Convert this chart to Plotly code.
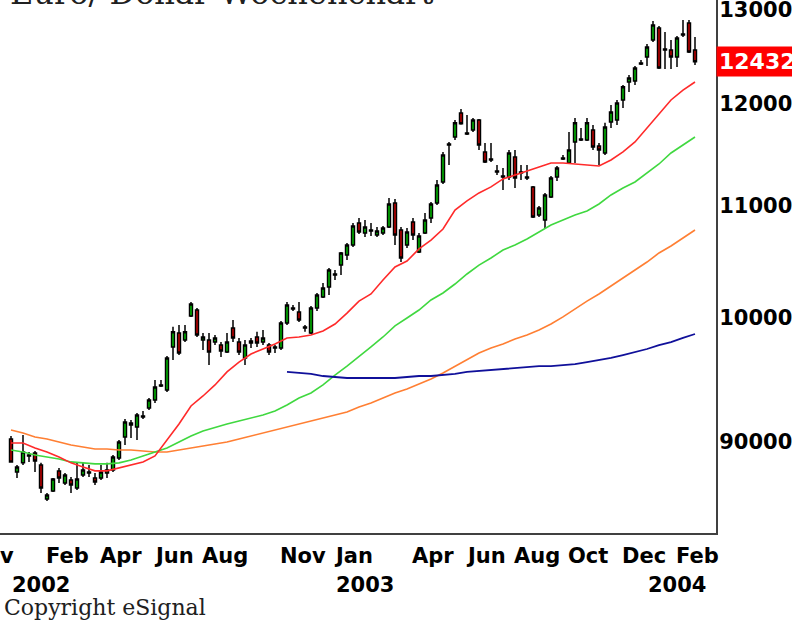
import numpy as np
import pandas as pd
import plotly.graph_objects as go

# ---------------- data (EUR/USD weekly, rates; axis shows rate x 100000) -------------
SCALE = 100000
first_week = "2001-12-21"
n_weeks = 115

open_ = [0.9023, 0.8774, 0.8842, 0.8901, 0.8916, 0.8826, 0.8574, 0.8633, 0.8781, 0.8692,
         0.8714, 0.8656, 0.8751, 0.8774, 0.8729, 0.8729, 0.8766, 0.8789, 0.8879, 0.9038,
         0.9147, 0.9115, 0.9201, 0.9264, 0.9327, 0.9439, 0.9407, 0.9757, 0.9874, 0.9815,
         1.0017, 1.0068, 0.9815, 0.9815, 0.9798, 0.9773, 0.9715, 0.9916, 0.9798, 0.9665,
         0.9790, 0.9840, 0.9798, 0.9773, 0.9748, 0.9748, 0.9958, 1.0085, 1.0051, 0.9924,
         0.9874, 1.0085, 1.0180, 1.0267, 1.0381, 1.0460, 1.0550, 1.0640, 1.0840, 1.0749,
         1.0776, 1.0731, 1.0749, 1.0804, 1.1027, 1.0776, 1.0640, 1.0849, 1.0577, 1.0749,
         1.0886, 1.1027, 1.1225, 1.1593, 1.1662, 1.1903, 1.1702, 1.1732, 1.1832, 1.1515,
         1.1447, 1.1330, 1.1282, 1.1273, 1.1466, 1.1321, 1.1273, 1.1178, 1.0914, 1.0868,
         1.1083, 1.1273, 1.1457, 1.1408, 1.1613, 1.1633, 1.1633, 1.1732, 1.1574, 1.1505,
         1.1813, 1.1832, 1.2035, 1.2220, 1.2230, 1.2420, 1.2483, 1.2664, 1.2793, 1.2567,
         1.2557, 1.2483, 1.2728, 1.2848, 1.2557]
high = [0.9046, 0.8826, 0.9054, 0.8924, 0.8931, 0.8842, 0.8619, 0.8729, 0.8804, 0.8766,
        0.8737, 0.8849, 0.8849, 0.8826, 0.8766, 0.8826, 0.8842, 0.8901, 0.9015, 0.9178,
        0.9170, 0.9225, 0.9240, 0.9343, 0.9487, 0.9487, 0.9682, 0.9925, 0.9941, 0.9941,
        1.0137, 1.0085, 0.9874, 0.9874, 0.9857, 0.9798, 0.9874, 0.9983, 0.9832, 0.9815,
        0.9832, 0.9883, 0.9899, 0.9790, 0.9773, 0.9975, 1.0137, 1.0111, 1.0137, 0.9941,
        1.0102, 1.0215, 1.0302, 1.0434, 1.0416, 1.0577, 1.0658, 1.0840, 1.0886, 1.0868,
        1.0840, 1.0804, 1.0813, 1.1074, 1.1064, 1.0804, 1.0795, 1.0886, 1.0749, 1.0933,
        1.1036, 1.1244, 1.1515, 1.1613, 1.1832, 1.1943, 1.1883, 1.1852, 1.1842, 1.1603,
        1.1603, 1.1388, 1.1360, 1.1534, 1.1534, 1.1388, 1.1388, 1.1187, 1.0999, 1.1121,
        1.1282, 1.1379, 1.1486, 1.1712, 1.1852, 1.1752, 1.1852, 1.1782, 1.1603, 1.1804,
        1.1983, 1.2035, 1.2190, 1.2293, 1.2388, 1.2451, 1.2621, 1.2870, 1.2815, 1.2750,
        1.2664, 1.2707, 1.2881, 1.2881, 1.2696]
low = [0.8842, 0.8729, 0.8826, 0.8849, 0.8774, 0.8619, 0.8560, 0.8626, 0.8692, 0.8678,
       0.8619, 0.8641, 0.8737, 0.8737, 0.8678, 0.8714, 0.8729, 0.8774, 0.8864, 0.8977,
       0.9031, 0.9015, 0.9178, 0.9248, 0.9303, 0.9431, 0.9391, 0.9649, 0.9690, 0.9798,
       1.0009, 0.9840, 0.9732, 0.9608, 0.9773, 0.9674, 0.9707, 0.9798, 0.9690, 0.9608,
       0.9748, 0.9757, 0.9773, 0.9690, 0.9707, 0.9732, 0.9941, 1.0060, 0.9966, 0.9883,
       0.9866, 1.0060, 1.0171, 1.0197, 1.0328, 1.0372, 1.0505, 1.0622, 1.0740, 1.0713,
       1.0722, 1.0713, 1.0731, 1.0795, 1.0640, 1.0487, 1.0613, 1.0685, 1.0568, 1.0740,
       1.0840, 1.1008, 1.1206, 1.1388, 1.1633, 1.1785, 1.1682, 1.1712, 1.1534, 1.1408,
       1.1418, 1.1292, 1.1149, 1.1244, 1.1168, 1.1244, 1.1244, 1.0886, 1.0896, 1.0795,
       1.1074, 1.1235, 1.1437, 1.1398, 1.1408, 1.1623, 1.1623, 1.1534, 1.1388, 1.1486,
       1.1752, 1.1782, 1.1953, 1.2116, 1.2190, 1.2398, 1.2388, 1.2642, 1.2356, 1.2356,
       1.2356, 1.2377, 1.2696, 1.2525, 1.2398]
close = [0.8849, 0.8811, 0.8924, 0.8894, 0.8856, 0.8656, 0.8603, 0.8722, 0.8729, 0.8751,
         0.8678, 0.8722, 0.8789, 0.8766, 0.8699, 0.8774, 0.8789, 0.8886, 0.9000, 0.9154,
         0.9131, 0.9209, 0.9193, 0.9327, 0.9431, 0.9447, 0.9665, 0.9883, 0.9707, 0.9883,
         1.0120, 0.9857, 0.9840, 0.9715, 0.9832, 0.9724, 0.9798, 0.9832, 0.9715, 0.9773,
         0.9807, 0.9790, 0.9832, 0.9715, 0.9757, 0.9958, 1.0111, 1.0077, 0.9983, 0.9916,
         1.0085, 1.0197, 1.0258, 1.0416, 1.0372, 1.0568, 1.0640, 1.0813, 1.0758, 1.0804,
         1.0767, 1.0767, 1.0795, 1.1017, 1.0731, 1.0523, 1.0758, 1.0731, 1.0722, 1.0868,
         1.1017, 1.1197, 1.1486, 1.1583, 1.1804, 1.1795, 1.1692, 1.1832, 1.1583, 1.1418,
         1.1437, 1.1321, 1.1273, 1.1505, 1.1263, 1.1311, 1.1263, 1.0896, 1.0980, 1.1102,
         1.1263, 1.1360, 1.1447, 1.1534, 1.1804, 1.1643, 1.1804, 1.1564, 1.1534, 1.1762,
         1.1913, 1.2004, 1.2170, 1.2261, 1.2366, 1.2409, 1.2589, 1.2826, 1.2366, 1.2557,
         1.2483, 1.2685, 1.2718, 1.2536, 1.2432]

# moving averages, read every second week (week 0, 2, 4, ...)
ma_red = [0.8992, 0.8992, 0.8954, 0.8924, 0.8886, 0.8842, 0.8811, 0.8782, 0.8782, 0.8804,
          0.8826, 0.8849, 0.8894, 0.9015, 0.9139, 0.9280, 0.9359, 0.9447, 0.9552, 0.9632,
          0.9699, 0.9740, 0.9781, 0.9832, 0.9840, 0.9857, 0.9891, 0.9949, 1.0042, 1.0145,
          1.0206, 1.0328, 1.0443, 1.0496, 1.0604, 1.0685, 1.0785, 1.0961, 1.1046, 1.1121,
          1.1178, 1.1254, 1.1292, 1.1330, 1.1369, 1.1408, 1.1408, 1.1398, 1.1389, 1.1379,
          1.1437, 1.1515, 1.1613, 1.1752, 1.1893, 1.2035, 1.2137, 1.2220]
ma_green = [0.8939, 0.8924, 0.8901, 0.8886, 0.8871, 0.8849, 0.8842, 0.8834, 0.8834, 0.8842,
            0.8864, 0.8894, 0.8924, 0.8954, 0.9000, 0.9046, 0.9085, 0.9115, 0.9139, 0.9162,
            0.9186, 0.9209, 0.9240, 0.9287, 0.9343, 0.9383, 0.9447, 0.9527, 0.9599, 0.9674,
            0.9757, 0.9840, 0.9933, 1.0000, 1.0068, 1.0154, 1.0215, 1.0293, 1.0381, 1.0460,
            1.0523, 1.0595, 1.0640, 1.0694, 1.0758, 1.0822, 1.0868, 1.0914, 1.0952, 1.1017,
            1.1102, 1.1168, 1.1225, 1.1311, 1.1398, 1.1505, 1.1583, 1.1662]
ma_orange = [0.9092, 0.9069, 0.9038, 0.9023, 0.9000, 0.8977, 0.8962, 0.8947, 0.8947, 0.8939,
             0.8939, 0.8932, 0.8924, 0.8924, 0.8939, 0.8954, 0.8969, 0.8985, 0.9000, 0.9023,
             0.9046, 0.9069, 0.9092, 0.9115, 0.9139, 0.9162, 0.9186, 0.9209, 0.9233, 0.9272,
             0.9303, 0.9343, 0.9383, 0.9415, 0.9455, 0.9495, 0.9544, 0.9599, 0.9657, 0.9707,
             0.9748, 0.9781, 0.9824, 0.9857, 0.9899, 0.9949, 1.0009, 1.0077, 1.0145, 1.0206,
             1.0276, 1.0346, 1.0416, 1.0487, 1.0568, 1.0631, 1.0703, 1.0776]
# blue average starts at week 46
ma_blue = [0.9552, 0.9544, 0.9536, 0.9519, 0.9511, 0.9503, 0.9503, 0.9503, 0.9503, 0.9503,
           0.9511, 0.9519, 0.9519, 0.9527, 0.9536, 0.9552, 0.9560, 0.9568, 0.9576, 0.9584,
           0.9592, 0.9599, 0.9599, 0.9608, 0.9616, 0.9632, 0.9649, 0.9666, 0.9690, 0.9715,
           0.9740, 0.9773, 0.9798, 0.9832, 0.9865]
blue_start = 46

y_tick_vals = [90000, 100000, 110000, 120000, 130000]
y_tick_text = ["90000", "100000", "110000", "120000", "130000"]
last_price_text = "124320"

month_labels = ["Feb", "Apr", "Jun", "Aug", "Nov", "Jan", "Apr", "Jun", "Aug", "Oct", "Dec", "Feb"]
month_dates = ["2002-02-01", "2002-04-05", "2002-06-07", "2002-08-02", "2002-11-01", "2003-01-03",
               "2003-04-04", "2003-06-06", "2003-08-01", "2003-10-03", "2003-12-05", "2004-02-06"]
year_labels = ["2002", "2003", "2004"]
year_dates = ["2001-12-21", "2003-01-03", "2004-01-02"]
cut_label = ("Nov", "2001-11-02")

title_text = "Euro/ Dollar Wochenchart"
copyright_text = "Copyright eSignal"

# ---------------- figure -------------
dates = pd.date_range(first_week, periods=n_weeks, freq="7D")
ma_dates = dates[::2]
blue_dates = dates[blue_start::2]

W, H = 792, 623
ML, MR, MT, MB = 0, 76, 0, 90
plot_w = W - ML - MR
plot_h = H - MT - MB

d0 = dates[0]
x_left = d0 - pd.Timedelta(days=11 / 6 * 7)
x_right = d0 + pd.Timedelta(days=(plot_w - 11) / 6 * 7)

def py(page_y):
    return (plot_h - page_y) / plot_h

sc = lambda a: (np.array(a) * SCALE).tolist()

fig = go.Figure()
fig.add_trace(go.Scatter(x=ma_dates, y=sc(ma_orange), mode="lines",
                         line=dict(color="#ff7f33", width=1.6), hoverinfo="skip"))
fig.add_trace(go.Scatter(x=ma_dates, y=sc(ma_green), mode="lines",
                         line=dict(color="#40d840", width=1.6), hoverinfo="skip"))
fig.add_trace(go.Scatter(x=ma_dates, y=sc(ma_red), mode="lines",
                         line=dict(color="#ff2a2a", width=1.6), hoverinfo="skip"))
fig.add_trace(go.Scatter(x=blue_dates, y=sc(ma_blue), mode="lines",
                         line=dict(color="#10109a", width=1.8), hoverinfo="skip"))
fig.add_trace(go.Candlestick(
    x=dates, open=sc(open_), high=sc(high), low=sc(low), close=sc(close),
    increasing=dict(line=dict(color="black", width=1.5), fillcolor="#00c400"),
    decreasing=dict(line=dict(color="black", width=1.5), fillcolor="#cc0000"),
    whiskerwidth=0,
))

lab_font = dict(family="DejaVu Sans", size=21, color="black", weight="bold")
ann = []
for t, d in zip(month_labels, month_dates):
    ann.append(dict(x=d, xref="x", y=py(556), yref="paper", text=t, showarrow=False,
                    xanchor="left", yanchor="middle", xshift=-3, font=lab_font))
for t, d in zip(year_labels, year_dates):
    ann.append(dict(x=d, xref="x", y=py(585), yref="paper", text=t, showarrow=False,
                    xanchor="left", yanchor="middle", xshift=-1, font=lab_font))
# partly hidden label at the left edge
span = (x_right - x_left)
fx = (pd.Timestamp(cut_label[1]) - x_left) / span
ann.append(dict(x=fx, xref="paper", y=py(556), yref="paper", text=cut_label[0],
                showarrow=False, xanchor="left", yanchor="middle", xshift=-3, font=lab_font))
# last price box
ann.append(dict(x=1, xref="paper", y=np.log10(float(last_price_text)), yref="y",
                text=last_price_text, showarrow=False, xanchor="left", yanchor="middle",
                bgcolor="#ff0000", borderpad=2, xshift=0,
                font=dict(family="DejaVu Sans", size=22, color="white", weight="bold")))
# title (mostly cut off at the top)
ann.append(dict(x=8 / plot_w, xref="paper", y=1, yref="paper", text=title_text,
                showarrow=False, xanchor="left", yanchor="bottom", yshift=-14,
                font=dict(family="DejaVu Serif", size=32, color="#202020")))
ann.append(dict(x=2 / plot_w, xref="paper", y=py(607), yref="paper", text=copyright_text,
                showarrow=False, xanchor="left", yanchor="middle",
                font=dict(family="DejaVu Serif", size=22, color="#202020")))

top_val = SCALE * np.exp(318 / 1177)
bot_val = SCALE * np.exp((318 - 533) / 1177)

fig.update_layout(
    width=W, height=H, margin=dict(l=ML, r=MR, t=MT, b=MB, autoexpand=False),
    paper_bgcolor="white", plot_bgcolor="white", showlegend=False,
    annotations=ann,
    xaxis=dict(type="date", range=[x_left, x_right], showgrid=False, zeroline=False,
               showticklabels=False, ticks="", showline=True, linecolor="#404040",
               linewidth=2, rangeslider=dict(visible=False), automargin=False),
    yaxis=dict(type="log", side="right", range=[np.log10(bot_val), np.log10(top_val)],
               tickvals=y_tick_vals, ticktext=y_tick_text, showgrid=False, zeroline=False,
               ticks="", showline=True, linecolor="#404040", linewidth=2, automargin=False,
               ticklabelstandoff=-3, ticklabeloverflow="allow",
               tickfont=dict(family="DejaVu Sans", size=21, color="black", weight="bold")),
)

fig.write_html("out.html", config={"displayModeBar": False},
               post_script="document.body.style.margin='0';document.body.style.overflow='hidden';")
